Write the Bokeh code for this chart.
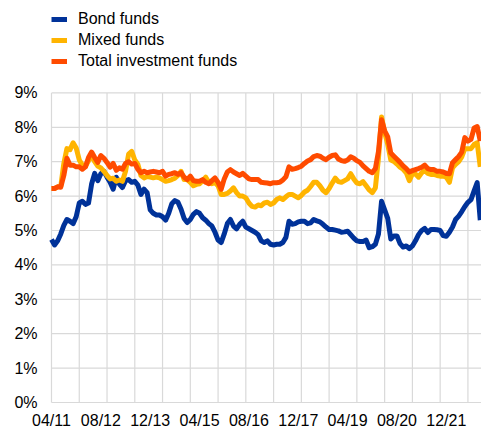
from bokeh.plotting import figure
from bokeh.models import FixedTicker, Legend, LegendItem
from bokeh.embed import file_html
from bokeh.resources import INLINE

# Monthly observations, April 2011 onwards (percent)
bond_funds = [
    4.74, 4.58, 4.70, 4.90, 5.15, 5.32, 5.27, 5.20, 5.40, 5.80,
    5.85, 5.76, 5.80, 6.35, 6.66, 6.45, 6.65, 6.72, 6.55, 6.40,
    6.20, 6.55, 6.35, 6.25, 6.45, 6.48, 6.40, 6.43, 6.32, 6.05,
    6.20, 6.10, 5.60, 5.50, 5.45, 5.45, 5.40, 5.30, 5.50, 5.78,
    5.87, 5.82, 5.62, 5.35, 5.23, 5.32, 5.47, 5.55, 5.50, 5.37,
    5.30, 5.20, 5.13, 4.95, 4.72, 4.65, 4.90, 5.20, 5.32, 5.13,
    5.05, 5.18, 5.27, 5.10, 5.05, 5.00, 4.95, 4.88, 4.70, 4.65,
    4.70, 4.60, 4.58, 4.60, 4.60, 4.65, 4.80, 5.27, 5.18, 5.20,
    5.25, 5.27, 5.27, 5.20, 5.22, 5.32, 5.28, 5.25, 5.18, 5.10,
    5.03, 5.03, 5.01, 4.99, 4.95, 4.96, 4.98, 4.88, 4.78, 4.70,
    4.68, 4.68, 4.72, 4.50, 4.53, 4.60, 4.90, 5.85, 5.60, 5.35,
    4.75, 4.84, 4.84, 4.62, 4.52, 4.55, 4.47, 4.55, 4.70, 4.88,
    5.00, 5.06, 4.94, 5.03, 5.03, 5.02, 5.00, 4.85, 4.83, 4.95,
    5.10, 5.32, 5.42, 5.55, 5.70, 5.82, 5.90, 6.15, 6.39, 5.30,
]
mixed_funds = [
    6.22, 6.22, 6.27, 6.28, 6.95, 7.38, 7.35, 7.55, 7.40, 7.05,
    6.90, 6.87, 7.03, 7.18, 7.00, 6.87, 6.82, 6.72, 6.60, 6.50,
    6.52, 6.43, 6.47, 6.43, 6.72, 7.22, 7.30, 7.05, 6.92, 6.60,
    6.53, 6.57, 6.55, 6.53, 6.55, 6.53, 6.48, 6.43, 6.45, 6.48,
    6.52, 6.60, 6.72, 6.48, 6.48, 6.40, 6.30, 6.34, 6.36, 6.45,
    6.55, 6.40, 6.36, 6.39, 6.30, 6.05, 6.05, 6.08, 6.15, 6.24,
    6.10, 6.00, 6.00, 5.95, 5.80, 5.70, 5.68, 5.74, 5.72, 5.80,
    5.82, 5.76, 5.80, 5.90, 5.95, 5.90, 5.98, 6.05, 6.05, 6.00,
    5.95, 6.02, 6.12, 6.17, 6.28, 6.40, 6.40, 6.30, 6.17, 6.10,
    6.22, 6.38, 6.52, 6.42, 6.40, 6.45, 6.50, 6.65, 6.50, 6.38,
    6.36, 6.42, 6.30, 6.18, 6.10, 6.24, 7.10, 8.30, 7.85, 7.50,
    7.05, 7.01, 6.93, 6.84, 6.78, 6.68, 6.45, 6.65, 6.64, 6.55,
    6.68, 6.74, 6.66, 6.63, 6.63, 6.60, 6.58, 6.58, 6.55, 6.40,
    6.82, 6.92, 7.00, 7.14, 7.38, 7.38, 7.38, 7.50, 7.55, 6.85,
]
total_funds = [
    6.22, 6.22, 6.27, 6.26, 6.60, 7.10, 6.90, 6.90, 6.85, 6.85,
    6.78, 6.85, 7.12, 7.28, 7.12, 6.98, 7.18, 7.10, 6.98, 6.84,
    6.95, 6.75, 6.82, 6.78, 6.95, 7.00, 6.93, 6.95, 6.78, 6.68,
    6.72, 6.68, 6.70, 6.72, 6.70, 6.68, 6.72, 6.58, 6.63, 6.65,
    6.68, 6.63, 6.68, 6.55, 6.48, 6.58, 6.45, 6.43, 6.43, 6.48,
    6.40, 6.36, 6.45, 6.53, 6.40, 6.20, 6.50, 6.70, 6.77, 6.70,
    6.65, 6.60, 6.66, 6.58, 6.50, 6.48, 6.48, 6.48, 6.40, 6.39,
    6.38, 6.36, 6.39, 6.39, 6.40, 6.47, 6.56, 6.85, 6.78, 6.80,
    6.83, 6.87, 6.95, 7.02, 7.06, 7.15, 7.18, 7.16, 7.10, 7.06,
    7.13, 7.18, 7.20, 7.08, 7.03, 7.01, 7.05, 7.14, 7.10, 7.03,
    6.98, 6.88, 6.80, 6.72, 6.68, 6.80, 7.30, 8.22, 7.90, 7.72,
    7.25, 7.16, 7.07, 6.98, 6.88, 6.80, 6.70, 6.74, 6.77, 6.80,
    6.84, 6.90, 6.80, 6.77, 6.77, 6.72, 6.72, 6.70, 6.66, 6.65,
    6.97, 7.06, 7.15, 7.28, 7.70, 7.60, 7.65, 7.98, 8.02, 7.60,
]
x_tick_labels = ["04/11", "08/12", "12/13", "04/15", "08/16",
                 "12/17", "04/19", "08/20", "12/21"]
y_tick_values = [0, 1, 2, 3, 4, 5, 6, 7, 8, 9]
series_names = ["Bond funds", "Mixed funds", "Total investment funds"]
series_colors = ["#003299", "#FFB400", "#FF4B00"]

months = list(range(len(bond_funds)))
label_step = 16
grid_step = 9
x_end = 139.4

FONT = "Liberation Sans"
W, H = 481, 428
LEFT_PX = 51           # page column of the first month
ZERO_PX = 402          # page row of the 0% line
PX_PER_PCT = 34.4
PX_PER_MONTH = (W - LEFT_PX) / x_end
X_START = -LEFT_PX / PX_PER_MONTH      # room left of the plot for % labels
Y_TOP = ZERO_PX / PX_PER_PCT           # room above 9% for the legend
Y_BOT = -(H - ZERO_PX) / PX_PER_PCT    # room below 0% for the date labels

p = figure(width=W, height=H, output_backend="svg", toolbar_location=None,
           x_range=(X_START, x_end), y_range=(Y_BOT, Y_TOP),
           min_border_left=0, min_border_right=0, min_border_top=0,
           min_border_bottom=0)
p.outline_line_color = None
p.background_fill_color = "white"
p.border_fill_color = "white"
p.xgrid.grid_line_color = None
p.ygrid.grid_line_color = None

GRID = dict(line_color="#d9d9d9", line_width=1.2)
# vertical grid lines limited to the 0-9% band
gx = list(range(0, 140, grid_step))
p.segment(x0=gx, y0=[y_tick_values[0]] * len(gx), x1=gx,
          y1=[y_tick_values[-1]] * len(gx), **GRID)
# horizontal grid lines limited to the plotted period
p.segment(x0=[0] * len(y_tick_values), y0=y_tick_values,
          x1=[x_end] * len(y_tick_values), y1=y_tick_values, **GRID)

renderers = []
for ys, col in zip([bond_funds, mixed_funds, total_funds], series_colors):
    r = p.line(months, ys, line_color=col, line_width=5, line_join="round")
    renderers.append(r)

xt = [i * label_step for i in range(len(x_tick_labels))]
p.xaxis.ticker = FixedTicker(ticks=xt)
p.xaxis.major_label_overrides = {t: s for t, s in zip(xt, x_tick_labels)}
p.xaxis.fixed_location = 0
p.yaxis.ticker = FixedTicker(ticks=y_tick_values)
p.yaxis.major_label_overrides = {v: f"{v}%" for v in y_tick_values}
p.yaxis.fixed_location = 0

for ax in (p.xaxis[0], p.yaxis[0]):
    ax.axis_line_color = None
    ax.major_tick_line_color = None
    ax.minor_tick_line_color = None
    ax.major_tick_out = 0
    ax.major_tick_in = 0
    ax.major_label_text_font = FONT
    ax.major_label_text_font_size = "16px"
    ax.major_label_text_color = "black"
p.xaxis.major_label_standoff = 9
p.yaxis.major_label_standoff = 14

legend = Legend(
    items=[LegendItem(label=n, renderers=[r]) for n, r in zip(series_names, renderers)],
    location=(LEFT_PX, H - 71), orientation="vertical",
    background_fill_alpha=0, border_line_color=None,
    padding=0, margin=0, spacing=1, label_standoff=11,
    glyph_width=16, glyph_height=20, label_height=20,
    label_text_font=FONT, label_text_font_size="16px", label_text_color="black",
)
p.add_layout(legend)

open("out.html", "w").write(file_html(p, INLINE))
